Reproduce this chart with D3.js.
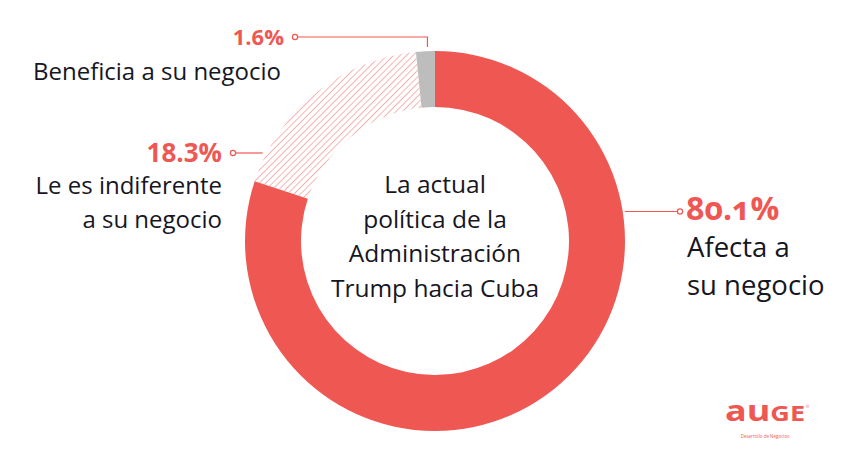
<!DOCTYPE html>
<html>
<head>
<meta charset="utf-8">
<script src="https://cdn.jsdelivr.net/npm/d3@7"></script>
<style>
  html, body { margin: 0; padding: 0; background: #fff; }
  svg { display: block; }
  text { font-family: "Open Sans", "Noto Sans", sans-serif; }
</style>
</head>
<body>
<svg id="chart" width="842" height="458"></svg>
<script>
// ---- Data ----
const categories = ["Afecta a su negocio", "Le es indiferente a su negocio", "Beneficia a su negocio"];
const values = [80.1, 18.3, 1.6];
const valueLabels = ["80.1%", "18.3%", "1.6%"];
const centerTitle = ["La actual", "política de la", "Administración", "Trump hacia Cuba"];

// ---- Styling ----
const RED = "#ef5753";
const GRAY = "#bdbdbd";
const INK = "#16161f";

const W = 842, H = 458;
const cx = 435, cy = 241, outerR = 190, innerR = 134;

const svg = d3.select("#chart");
const defs = svg.append("defs");
const P = 4.6;
const pat = defs.append("pattern")
  .attr("id", "hatch").attr("patternUnits", "userSpaceOnUse")
  .attr("width", P).attr("height", P)
  .attr("patternTransform", "rotate(45)");
pat.append("line").attr("x1", 0).attr("y1", 0).attr("x2", 0).attr("y2", P)
  .attr("stroke", RED).attr("stroke-width", 1.1).attr("stroke-opacity", 0.8);

const data = categories.map((c, i) => ({ cat: c, value: values[i], label: valueLabels[i] }));
const fills = [RED, "url(#hatch)", GRAY];

const pie = d3.pie().sort(null).value(d => d.value).startAngle(0).endAngle(2 * Math.PI);
const arcs = pie(data);
const arc = d3.arc().innerRadius(innerR).outerRadius(outerR);

const g = svg.append("g").attr("transform", `translate(${cx},${cy})`);
g.selectAll("path.slice").data(arcs).join("path")
  .attr("class", "slice")
  .attr("d", arc)
  .attr("fill", (d, i) => fills[i]);

// center text
const ct = svg.append("text").attr("text-anchor", "middle").attr("fill", INK)
  .attr("font-size", 24.5);
centerTitle.forEach((t, i) => {
  ct.append("tspan").attr("x", cx).attr("y", 193 + i * 34.5).text(t);
});

// helpers
function outerPoint(angle, r) {
  return [cx + r * Math.sin(angle), cy - r * Math.cos(angle)];
}
function marker(x, y) {
  svg.append("circle").attr("cx", x).attr("cy", y).attr("r", 2.6)
    .attr("fill", "#fff").attr("stroke", RED).attr("stroke-width", 1.2);
}

// ---- Label 0: Afecta (right) ----
{
  const y = 211.5;
  const xEdge = cx + Math.sqrt(outerR * outerR - (cy - y) * (cy - y));
  svg.append("line").attr("x1", xEdge + 2).attr("y1", y).attr("x2", 680).attr("y2", y)
    .attr("stroke", RED).attr("stroke-width", 1.2);
  marker(680, y);
  svg.append("text").attr("x", 686).attr("y", 220).attr("fill", RED)
    .attr("font-weight", 700).attr("font-size", 32)
    .style("font-variant-numeric", "oldstyle-nums")
    .text(arcs[0].data.label);
  const t = svg.append("text").attr("fill", INK).attr("font-size", 27.5);
  ["Afecta a", "su negocio"].forEach((s, i) =>
    t.append("tspan").attr("x", 687).attr("y", 257 + i * 38).text(s));
}

// ---- Label 1: Indiferente (left) ----
{
  const y = 153;
  const xEdge = cx - Math.sqrt(outerR * outerR - (cy - y) * (cy - y));
  svg.append("line").attr("x1", 233).attr("y1", y).attr("x2", xEdge - 4).attr("y2", y)
    .attr("stroke", RED).attr("stroke-width", 1.2);
  marker(233, y);
  svg.append("text").attr("x", 222).attr("y", 162).attr("text-anchor", "end").attr("fill", RED)
    .attr("font-weight", 700).attr("font-size", 26)
    .text(arcs[1].data.label);
  const t = svg.append("text").attr("fill", INK).attr("font-size", 24).attr("text-anchor", "end");
  ["Le es indiferente", "a su negocio"].forEach((s, i) =>
    t.append("tspan").attr("x", 222).attr("y", 194 + i * 34).text(s));
}

// ---- Label 2: Beneficia (top-left) ----
{
  const y = 37;
  const mid = (arcs[2].startAngle + arcs[2].endAngle) / 2;
  const [px] = outerPoint(mid, outerR);
  svg.append("polyline")
    .attr("points", `295,${y} ${px + 2},${y} ${px + 2},${cy - outerR - 4}`)
    .attr("fill", "none").attr("stroke", RED).attr("stroke-width", 1.2);
  marker(295, y);
  svg.append("text").attr("x", 284).attr("y", 45).attr("text-anchor", "end").attr("fill", RED)
    .attr("font-weight", 700).attr("font-size", 22)
    .text(arcs[2].data.label);
  svg.append("text").attr("x", 33).attr("y", 80).attr("fill", INK).attr("font-size", 24)
    .text("Beneficia a su negocio");
}

// ---- Logo ----
const logo = svg.append("text").attr("x", 725).attr("y", 421)
  .attr("fill", RED).attr("font-weight", 700)
  .attr("font-family", "DejaVu Sans")
  .attr("textLength", 80).attr("lengthAdjust", "spacingAndGlyphs");
logo.append("tspan").attr("font-size", 28).text("au");
logo.append("tspan").attr("font-size", 21).text("GE");
svg.append("text").attr("x", 806).attr("y", 408).attr("fill", RED).attr("font-size", 4).text("®");
svg.append("text").attr("x", 765).attr("y", 438).attr("text-anchor", "middle")
  .attr("fill", RED).attr("font-size", 4.5).text("Desarrollo de Negocios");
</script>
</body>
</html>
